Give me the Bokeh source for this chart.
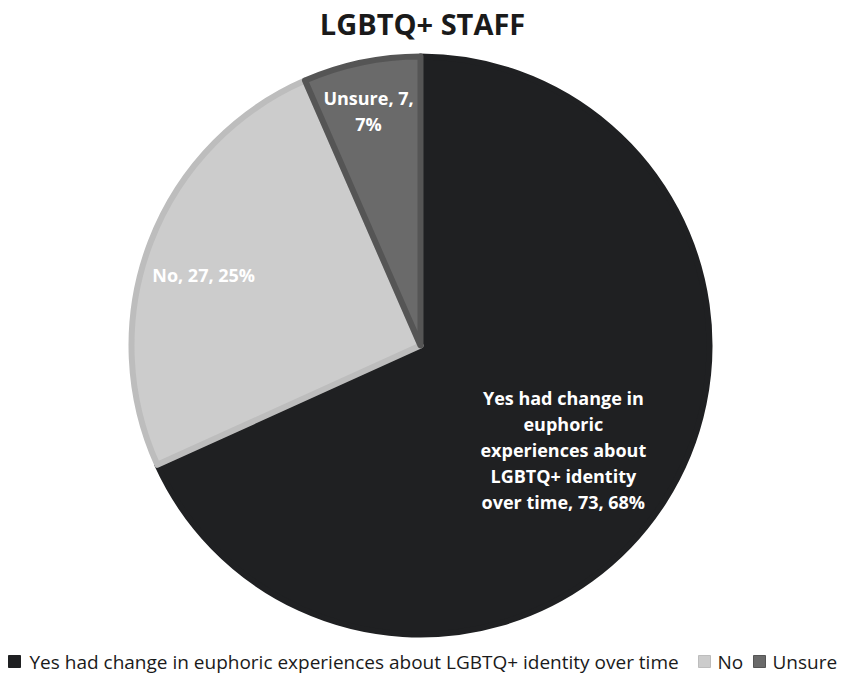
import math
from bokeh.plotting import figure
from bokeh.models import Range1d
from bokeh.core.properties import value
from bokeh.embed import file_html
from bokeh.resources import INLINE

# ---- data ----
title = "LGBTQ+ STAFF"
categories = ["Yes had change in euphoric experiences about LGBTQ+ identity over time", "No", "Unsure"]
counts = [73, 27, 7]
percents = [68, 25, 7]
label_lines = [
    ["Yes had change in", "euphoric", "experiences about", "LGBTQ+ identity", "over time, 73, 68%"],
    ["No, 27, 25%"],
    ["Unsure, 7,", "7%"],
]

# ---- style ----
fills = ["#1f2022", "#cccccc", "#6a6a6a"]
borders = ["#1f2022", "#bdbdbd", "#555555"]
FONT = "Open Sans"
W, H = 842, 681
CX, CY, R = 420, H - 345, 292
BW = 6
label_frac = [0.607, 0.781, 0.824]
label_dang = [-3.5, 3.0, 0.7]  # degrees

p = figure(width=W, height=H, x_range=Range1d(0, W), y_range=Range1d(0, H),
           output_backend="svg", toolbar_location=None, min_border=0)
p.axis.visible = False
p.grid.visible = False
p.outline_line_color = None

total = sum(counts)
start = math.pi / 2
starts, ends, mids = [], [], []
for c in counts:
    span = 2 * math.pi * c / total
    starts.append(start)
    ends.append(start - span)
    mids.append(start - span / 2)
    start -= span

p.wedge(x=[CX] * 3, y=[CY] * 3, radius=R - BW / 2, start_angle=starts, end_angle=ends,
        direction="clock", fill_color=fills, line_color=borders, line_width=BW,
        line_join="round")

# labels
LFS = 18
LH = 26
for lines, m, f, da in zip(label_lines, mids, label_frac, label_dang):
    a = m + math.radians(da)
    lx = CX + f * R * math.cos(a)
    ly = CY + f * R * math.sin(a)
    n = len(lines)
    ys = [ly + (n - 1) / 2 * LH - i * LH for i in range(n)]
    p.text(x=[lx] * n, y=ys, text=lines, text_color="white", text_font=value(FONT),
           text_font_style="bold", text_font_size=f"{LFS}px", text_align="center",
           text_baseline="middle")

# title
p.text(x=[W / 2 + 1], y=[H - 23], text=[title], text_color="#1a1a1a", text_font=value(FONT),
       text_font_style="bold", text_font_size="29px", text_align="center", text_baseline="middle")

# legend
leg_y = H - 661
sq_x = [8, 698, 753]
txt_x = [29, 717, 772]
for i, cat in enumerate(categories):
    p.rect(x=[sq_x[i] + 6], y=[leg_y], width=12, height=12, fill_color=fills[i],
           line_color=borders[i] if i else fills[i])
    p.text(x=[txt_x[i]], y=[leg_y], text=[cat], text_color="#1a1a1a", text_font=value(FONT),
           text_font_size="19px", text_align="left", text_baseline="middle")

open("out.html", "w").write(file_html(p, INLINE))
